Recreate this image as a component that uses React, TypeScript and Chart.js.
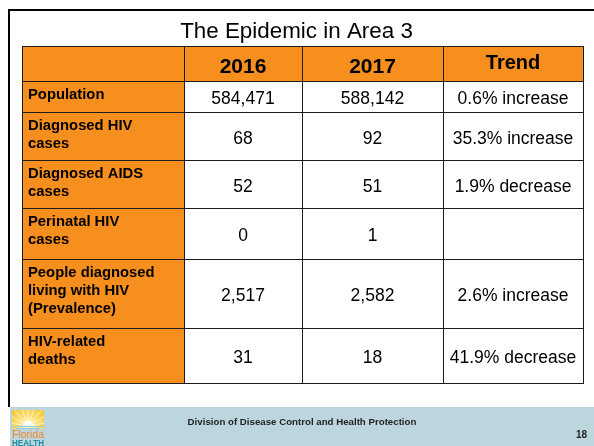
import React, { useEffect, useRef } from 'react';
import { Chart, registerables } from 'chart.js';

Chart.register(...registerables);

// ---------- data ----------
const TITLE = 'The Epidemic in Area 3';
const HEADERS = ['', '2016', '2017', 'Trend'];
const ROW_LABELS = [
  ['Population'],
  ['Diagnosed HIV', 'cases'],
  ['Diagnosed AIDS', 'cases'],
  ['Perinatal HIV', 'cases'],
  ['People diagnosed', 'living with HIV', '(Prevalence)'],
  ['HIV-related', 'deaths'],
];
const VALUES_2016 = ['584,471', '68', '52', '0', '2,517', '31'];
const VALUES_2017 = ['588,142', '92', '51', '1', '2,582', '18'];
const TRENDS = ['0.6% increase', '35.3% increase', '1.9% decrease', '', '2.6% increase', '41.9% decrease'];
const FOOTER = 'Division of Disease Control and Health Protection';
const PAGE = '18';

// ---------- layout (scale units) ----------
const COL_EDGES = [0, 162, 280, 421, 561];
const ROW_EDGES = [0, 35, 66, 114, 162, 213, 282, 337];

const ORANGE = '#f78f1e';
const LINE = '#1c1c1c';
const FOOTER_BG = '#bdd6dd';
const FONT = "'Liberation Sans', Arial, sans-serif";

const slidePlugin = {
  id: 'slide',
  beforeDraw(chart: any) {
    const ctx = chart.ctx as CanvasRenderingContext2D;
    ctx.save();
    ctx.fillStyle = '#ffffff';
    ctx.fillRect(0, 0, chart.width, chart.height);
    // frame
    ctx.fillStyle = '#000000';
    ctx.fillRect(8, 9, 586, 2);
    ctx.fillRect(8, 9, 2, 398);
    // footer band
    ctx.fillStyle = FOOTER_BG;
    ctx.fillRect(10, 407, 584, 39);
    // title
    ctx.fillStyle = '#000000';
    ctx.font = `22.4px ${FONT}`;
    ctx.textAlign = 'center';
    ctx.textBaseline = 'alphabetic';
    ctx.fillText(TITLE, 296.5, 37.5);
    // footer text
    ctx.font = `bold 9.7px ${FONT}`;
    ctx.fillStyle = '#222222';
    ctx.fillText(FOOTER, 302, 425);
    ctx.textAlign = 'right';
    ctx.font = `bold 10px ${FONT}`;
    ctx.fillText(PAGE, 587, 437.5);
    // logo
    const lx = 12, ly = 410, lw = 32, lh = 19;
    const sx = lx + lw / 2, sy = ly + lh - 3;
    ctx.save();
    ctx.beginPath();
    ctx.rect(lx, ly, lw, lh);
    ctx.clip();
    const g = ctx.createRadialGradient(sx, sy, 2, sx, sy, 22);
    g.addColorStop(0, '#fff6c8');
    g.addColorStop(0.4, '#fbe17a');
    g.addColorStop(1, '#f3c62e');
    ctx.fillStyle = g;
    ctx.fillRect(lx, ly, lw, lh);
    ctx.strokeStyle = 'rgba(255,250,220,0.7)';
    ctx.lineWidth = 1;
    for (let i = 0; i < 9; i++) {
      const a = Math.PI + (i + 0.5) * (Math.PI / 9);
      ctx.beginPath();
      ctx.moveTo(sx, sy);
      ctx.lineTo(sx + Math.cos(a) * 24, sy + Math.sin(a) * 24);
      ctx.stroke();
    }
    ctx.fillStyle = '#ffffff';
    ctx.beginPath();
    ctx.arc(sx, sy, 5, Math.PI, 0);
    ctx.fill();
    ctx.fillStyle = '#8ecbd6';
    ctx.fillRect(lx, sy, lw, 1);
    ctx.fillRect(lx + 4, sy + 2, lw - 8, 1);
    ctx.restore();
    ctx.textAlign = 'left';
    ctx.fillStyle = '#ee8529';
    ctx.font = `10.5px ${FONT}`;
    ctx.fillText('Florida', lx, 438, lw);
    ctx.fillStyle = '#1b8ea3';
    ctx.font = `bold 9.5px ${FONT}`;
    ctx.fillText('HEALTH', lx, 445.5, lw);
    ctx.restore();
  },
  afterDraw(chart: any) {
    const ctx = chart.ctx as CanvasRenderingContext2D;
    const xs = chart.scales.x;
    const ys = chart.scales.y;
    const px = (v: number) => Math.round(xs.getPixelForValue(v));
    const py = (v: number) => Math.round(ys.getPixelForValue(v));
    ctx.save();
    const nRows = ROW_EDGES.length - 1;
    const nCols = COL_EDGES.length - 1;
    // cell backgrounds
    for (let r = 0; r < nRows; r++) {
      for (let c = 0; c < nCols; c++) {
        ctx.fillStyle = r === 0 || c === 0 ? ORANGE : '#ffffff';
        const x0 = px(COL_EDGES[c]), x1 = px(COL_EDGES[c + 1]);
        const y0 = py(ROW_EDGES[r]), y1 = py(ROW_EDGES[r + 1]);
        ctx.fillRect(x0, y0, x1 - x0, y1 - y0);
      }
    }
    // grid lines
    ctx.strokeStyle = LINE;
    ctx.lineWidth = 1;
    const left = px(COL_EDGES[0]), right = px(COL_EDGES[nCols]);
    const top = py(ROW_EDGES[0]), bottom = py(ROW_EDGES[nRows]);
    ROW_EDGES.forEach((e) => {
      const y = py(e) + 0.5;
      ctx.beginPath();
      ctx.moveTo(left, y);
      ctx.lineTo(right + 1, y);
      ctx.stroke();
    });
    COL_EDGES.forEach((e) => {
      const x = px(e) + 0.5;
      ctx.beginPath();
      ctx.moveTo(x, top);
      ctx.lineTo(x, bottom + 1);
      ctx.stroke();
    });
    // header text
    ctx.fillStyle = '#000000';
    ctx.textAlign = 'center';
    ctx.textBaseline = 'alphabetic';
    const hc = (py(ROW_EDGES[0]) + py(ROW_EDGES[1])) / 2;
    HEADERS.forEach((h, c) => {
      if (!h) return;
      const cx = (px(COL_EDGES[c]) + px(COL_EDGES[c + 1])) / 2;
      if (c === 3) {
        ctx.font = `bold 20px ${FONT}`;
        ctx.fillText(h, cx, hc + 5);
      } else {
        ctx.font = `bold 21px ${FONT}`;
        ctx.fillText(h, cx, hc + 9);
      }
    });
    // body
    const cols = [VALUES_2016, VALUES_2017, TRENDS];
    for (let r = 0; r < ROW_LABELS.length; r++) {
      const y0 = py(ROW_EDGES[r + 1]);
      const y1 = py(ROW_EDGES[r + 2]);
      const cy = (y0 + y1) / 2;
      ctx.textAlign = 'left';
      ctx.font = `bold 14.8px ${FONT}`;
      ROW_LABELS[r].forEach((line, i) => {
        ctx.fillText(line, px(COL_EDGES[0]) + 6, y0 + 18 + i * 17.8);
      });
      ctx.textAlign = 'center';
      ctx.font = `17.5px ${FONT}`;
      cols.forEach((arr, k) => {
        const c = k + 1;
        const cx = (px(COL_EDGES[c]) + px(COL_EDGES[c + 1])) / 2;
        if (arr[r]) ctx.fillText(arr[r], cx, cy + 7.7);
      });
    }
    ctx.restore();
  },
};

export default function App() {
  const ref = useRef<HTMLCanvasElement | null>(null);
  useEffect(() => {
    if (!ref.current) return;
    const points: { x: number; y: number }[] = [];
    for (let r = 0; r < ROW_EDGES.length - 1; r++) {
      for (let c = 0; c < COL_EDGES.length - 1; c++) {
        points.push({ x: (COL_EDGES[c] + COL_EDGES[c + 1]) / 2, y: (ROW_EDGES[r] + ROW_EDGES[r + 1]) / 2 });
      }
    }
    const chart = new Chart(ref.current, {
      type: 'scatter',
      data: { datasets: [{ data: points, pointRadius: 0, showLine: false }] },
      options: {
        animation: false,
        responsive: false,
        devicePixelRatio: 1,
        events: [],
        layout: { padding: { left: 22, top: 46, right: 11, bottom: 63 } },
        plugins: { legend: { display: false }, tooltip: { enabled: false }, title: { display: false } },
        scales: {
          x: { type: 'linear', display: false, min: 0, max: 561 },
          y: { type: 'linear', display: false, min: 0, max: 337, reverse: true },
        },
      },
      plugins: [slidePlugin],
    } as any);
    return () => chart.destroy();
  }, []);
  return (
    <div style={{ position: 'absolute', left: 0, top: 0, width: 594, height: 446 }}>
      <canvas ref={ref} width={594} height={446} style={{ display: 'block' }} />
    </div>
  );
}
